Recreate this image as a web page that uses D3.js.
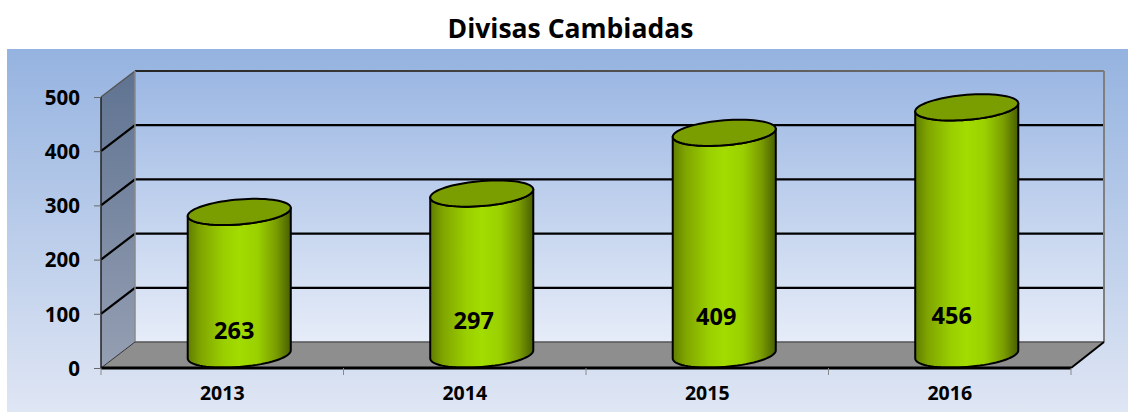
<!DOCTYPE html>
<html>
<head>
<meta charset="utf-8">
<script src="https://cdn.jsdelivr.net/npm/d3@7"></script>
<style>
  html, body { margin: 0; padding: 0; background: #fff; }
  svg { display: block; }
  text { font-family: "Open Sans", sans-serif; font-weight: 700; fill: #000; }
</style>
</head>
<body>
<svg id="chart" width="1128" height="412"></svg>
<script>
const chartTitle = "Divisas Cambiadas";
const years = ["2013", "2014", "2015", "2016"];
const values = [263, 297, 409, 456];
const yTicks = [0, 100, 200, 300, 400, 500];
// the data labels were placed by hand in the original, so they get their own nudge
const labelNudge = [[-5, 29], [-8, 39], [-8, 43], [-15, 44]].map(([dx, dy]) => ({ dx, dy }));

const svg = d3.select("#chart");
const defs = svg.append("defs");

const plot = { left: 101, right: 1071, top: 97, bottom: 368 };
const depth = { x: 34, y: 26 };

const x = d3.scaleBand().domain(years).range([plot.left, plot.right]).paddingInner(0.575).paddingOuter(0.2875);
const y = d3.scaleLinear().domain([0, 500]).range([plot.bottom, plot.top]);

function vGradient(id, top, bottom) {
    const g = defs.append("linearGradient").attr("id", id)
        .attr("x1", 0).attr("y1", 0).attr("x2", 0).attr("y2", 1);
    g.append("stop").attr("offset", "0%").attr("stop-color", top);
    g.append("stop").attr("offset", "100%").attr("stop-color", bottom);
}
vGradient("bg", "#95b3e0", "#dfe6f4");
vGradient("wall", "#9bb7e3", "#e6ecf8");
vGradient("side", "#5f7391", "#959fb3");

const cyl = defs.append("linearGradient").attr("id", "cyl");
[[0, "#5f7d00"], [0.12, "#7fa400"], [0.35, "#9acf00"], [0.5, "#a2dc00"], [0.68, "#9ad000"], [0.86, "#7a9c00"], [1, "#475f00"]]
    .forEach(([o, c]) => cyl.append("stop").attr("offset", o).attr("stop-color", c));

// the top edge of the back wall fades from near black to grey
const topEdge = defs.append("linearGradient").attr("id", "topEdge").attr("gradientUnits", "userSpaceOnUse")
    .attr("x1", plot.left).attr("y1", 0).attr("x2", plot.right).attr("y2", 0);
topEdge.append("stop").attr("offset", "0%").attr("stop-color", "#222");
topEdge.append("stop").attr("offset", "100%").attr("stop-color", "#777");

// background
svg.append("rect").attr("x", 7).attr("y", 49).attr("width", 1121).attr("height", 363).attr("fill", "url(#bg)");

// title
svg.append("text").attr("x", 570.5).attr("y", 38).attr("text-anchor", "middle")
    .style("font-size", "26.5px").text(chartTitle);

// 3d box
const poly = pts => d3.line()(pts);
const yBack = v => y(v) - depth.y;
const xBackL = plot.left + depth.x, xBackR = plot.right + depth.x - 1;

svg.append("rect").attr("x", xBackL).attr("y", yBack(500))
    .attr("width", xBackR - xBackL).attr("height", yBack(0) - yBack(500)).attr("fill", "url(#wall)");

svg.append("path")
    .attr("d", poly([[plot.left, y(0)], [plot.left, y(500)], [xBackL, yBack(500)], [xBackL, yBack(0)]]) + "Z")
    .attr("fill", "url(#side)");

svg.append("path")
    .attr("d", poly([[plot.left, y(0)], [xBackL, yBack(0)], [xBackR, yBack(0)], [plot.right, y(0)]]) + "Z")
    .attr("fill", "#8e8e8e");

// gridlines, wall then side
yTicks.filter(t => t > 0 && t < 500).forEach(t => {
    svg.append("path").attr("fill", "none").attr("stroke", "#000").attr("stroke-width", 2.2)
        .attr("d", poly([[plot.left, y(t)], [xBackL, yBack(t)], [xBackR, yBack(t)]]));
});
svg.append("path").attr("fill", "none").attr("stroke", "#555").attr("stroke-width", 1.5)
    .attr("d", poly([[plot.left, y(500)], [xBackL, yBack(500)]]));
svg.append("path").attr("fill", "none").attr("stroke", "url(#topEdge)").attr("stroke-width", 2)
    .attr("d", poly([[xBackL, yBack(500)], [xBackR, yBack(500) + 0.01]]));
svg.append("path").attr("fill", "none").attr("stroke", "#7f7f7f").attr("stroke-width", 2)
    .attr("d", poly([[xBackR, yBack(500)], [xBackR, yBack(0)]]));
svg.append("path").attr("fill", "none").attr("stroke", "#8a8a8a").attr("stroke-width", 1.5)
    .attr("d", poly([[xBackL, yBack(500)], [xBackL, yBack(0)]]));
svg.append("path").attr("fill", "none").attr("stroke", "#555").attr("stroke-width", 1.5)
    .attr("d", poly([[xBackL, yBack(0)], [xBackR, yBack(0)]]));
svg.append("path").attr("fill", "none").attr("stroke", "#000").attr("stroke-width", 2)
    .attr("d", poly([[plot.right, y(0)], [xBackR, yBack(0)]]));
svg.append("path").attr("fill", "none").attr("stroke", "#333").attr("stroke-width", 1)
    .attr("d", poly([[plot.left, y(0)], [xBackL, yBack(0)]]));

// cylinders: a sheared ellipse, the 3d projection of the round cap
const capTilt = 0.078, capRy = 12.5;
function capPoint(cx, cy, a, t) {
    const dx = a * Math.cos(t);
    return [cx + dx, cy - capTilt * dx - capRy * Math.sin(t)];
}
const capLine = d3.line();
function capPath(cx, cy, a) {
    return capLine(d3.range(0, 73).map(i => capPoint(cx, cy, a, i / 72 * 2 * Math.PI))) + "Z";
}
function bodyPath(cx, yTop, yBase, a) {
    const front = d3.range(0, 37).map(i => capPoint(cx, yBase, a, Math.PI + i / 36 * Math.PI));
    return capLine([capPoint(cx, yTop, a, Math.PI), ...front, capPoint(cx, yTop, a, 0)])
        + capLine(d3.range(0, 37).map(i => capPoint(cx, yTop, a, -i / 36 * Math.PI))).replace("M", "L") + "Z";
}

const cols = svg.append("g").selectAll("g").data(years).join("g");
const midY = v => y(v) - depth.y / 2 - 0.5;
const cx = d => x(d) + x.bandwidth() / 2 + depth.x / 2;
cols.append("path")
    .attr("d", (d, i) => bodyPath(cx(d), midY(values[i]), midY(0), x.bandwidth() / 2))
    .attr("fill", "url(#cyl)").attr("stroke", "#000").attr("stroke-width", 2).attr("stroke-linejoin", "round");
cols.append("path")
    .attr("d", (d, i) => capPath(cx(d), midY(values[i]), x.bandwidth() / 2))
    .attr("fill", "#7a9e00").attr("stroke", "#000").attr("stroke-width", 2);

// data labels
cols.append("text")
    .attr("x", (d, i) => cx(d) + labelNudge[i].dx)
    .attr("y", (d, i) => y(0) - labelNudge[i].dy)
    .attr("text-anchor", "middle").style("font-size", "23.5px")
    .text((d, i) => values[i]);

// front axis lines, heavy along the bottom
svg.append("path").attr("fill", "none").attr("stroke", "#000").attr("stroke-width", 3)
    .attr("d", poly([[plot.left, y(0)], [plot.right, y(0)]]));
svg.append("path").attr("fill", "none").attr("stroke", "#222").attr("stroke-width", 1.5)
    .attr("d", poly([[plot.left, y(0)], [plot.left, y(500)]]));

// axes
const yAxis = svg.append("g").attr("transform", `translate(${plot.left},0)`)
    .call(d3.axisLeft(y).tickValues(yTicks).tickSize(7).tickPadding(14));
yAxis.select(".domain").remove();
yAxis.selectAll("line").attr("stroke", "#666");
yAxis.selectAll("text").style("font-size", "20.5px").attr("dy", "0.36em");

const xAxis = svg.append("g").attr("transform", `translate(0,${plot.bottom})`)
    .call(d3.axisBottom(x).tickSize(0).tickPadding(18));
xAxis.select(".domain").remove();
xAxis.selectAll("text").style("font-size", "19.5px");

// tick marks sit between the categories, not under them
const step = x.step();
svg.append("g").selectAll("line").data(d3.range(0, years.length + 1)).join("line")
    .attr("x1", i => plot.left + i * step).attr("x2", i => plot.left + i * step)
    .attr("y1", plot.bottom).attr("y2", plot.bottom + 7)
    .attr("stroke", "#888");
</script>
</body>
</html>
